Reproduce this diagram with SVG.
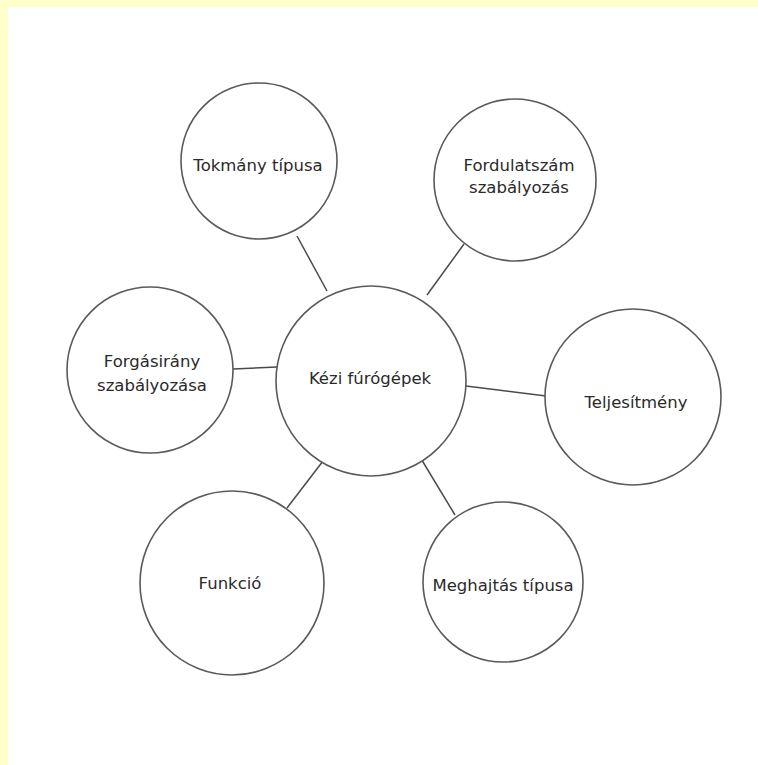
<svg xmlns="http://www.w3.org/2000/svg" width="758" height="765" viewBox="0 0 758 765">
<style>
.n{fill:#fff;stroke:#5a5a5a;stroke-width:1.6}
.c line{stroke:#4a4a4a;stroke-width:1.5}
text{font-family:"DejaVu Sans",Verdana,sans-serif;font-size:16.5px;fill:#2a2a2a;text-anchor:middle}
</style>
<rect x="0" y="0" width="758" height="765" fill="#fff"/>
<rect x="0" y="0" width="758" height="7" fill="#ffffcc"/>
<rect x="0" y="0" width="8" height="765" fill="#ffffcc"/>
<g id="connectors" class="c">
<line x1="297" y1="236" x2="327" y2="291"/>
<line x1="464" y1="244" x2="427" y2="295"/>
<line x1="233" y1="369" x2="277" y2="367"/>
<line x1="466" y1="386" x2="546" y2="396"/>
<line x1="287" y1="508" x2="323" y2="461"/>
<line x1="420" y1="457" x2="455" y2="515"/>
</g>
<g id="center"><circle class="n" cx="371" cy="381" r="95"/><text x="370" y="384">Kézi fúrógépek</text></g>
<g id="tokmany"><circle class="n" cx="259" cy="161" r="78"/><text x="258" y="171">Tokmány típusa</text></g>
<g id="fordulatszam"><circle class="n" cx="515" cy="180" r="81"/><text x="519" y="171">Fordulatszám</text><text x="519" y="193">szabályozás</text></g>
<g id="forgasirany"><circle class="n" cx="150" cy="370" r="83"/><text x="152" y="367">Forgásirány</text><text x="152" y="391">szabályozása</text></g>
<g id="teljesitmeny"><circle class="n" cx="633" cy="397" r="88"/><text x="636" y="408">Teljesítmény</text></g>
<g id="funkcio"><circle class="n" cx="232" cy="583" r="92"/><text x="230" y="589">Funkció</text></g>
<g id="meghajtas"><circle class="n" cx="503" cy="582" r="80"/><text x="503" y="591">Meghajtás típusa</text></g>
</svg>
